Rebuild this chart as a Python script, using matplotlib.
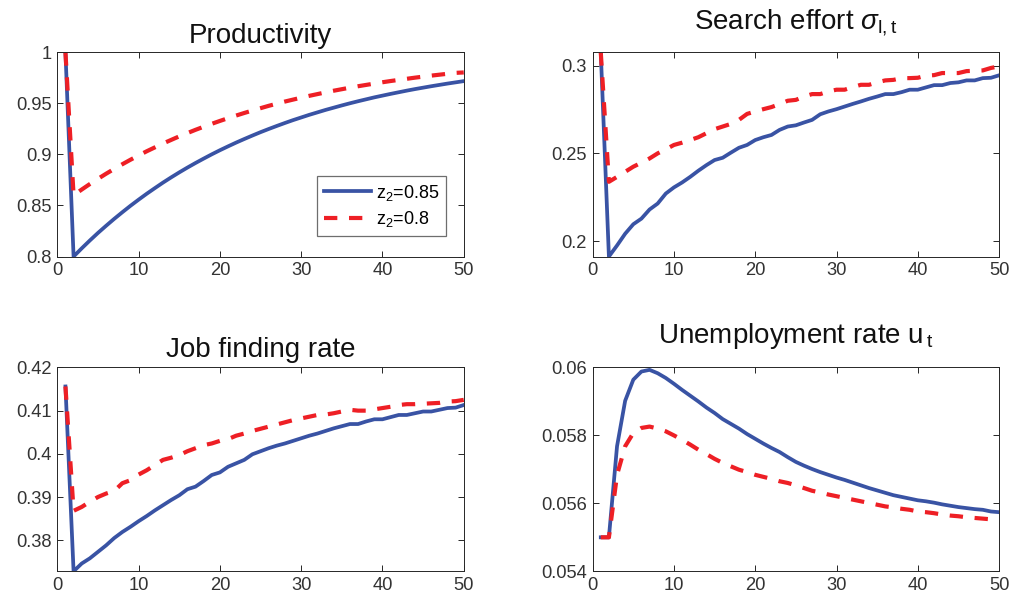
import matplotlib
matplotlib.use('Agg')
import matplotlib.pyplot as plt

plt.rcParams['font.family'] = ['Liberation Sans', 'DejaVu Sans']
plt.rcParams['mathtext.fontset'] = 'custom'
plt.rcParams['mathtext.rm'] = 'Liberation Sans'
plt.rcParams['mathtext.it'] = 'Liberation Sans:italic'

periods = list(range(1, 51))
labels = ['z$_2$=0.85', 'z$_2$=0.8']

# productivity
prod_085 = [1.0, 0.800, 0.808, 0.8157, 0.8231, 0.8301, 0.8369, 0.8434, 0.8497, 0.8557,
            0.8615, 0.8670, 0.8724, 0.8775, 0.8824, 0.8871, 0.8916, 0.8959, 0.9001, 0.9041,
            0.9079, 0.9116, 0.9151, 0.9185, 0.9218, 0.9249, 0.9279, 0.9308, 0.9336, 0.9362,
            0.9388, 0.9412, 0.9436, 0.9458, 0.9480, 0.9501, 0.9521, 0.9540, 0.9559, 0.9576,
            0.9593, 0.9609, 0.9625, 0.9640, 0.9654, 0.9668, 0.9681, 0.9694, 0.9706, 0.9718]
prod_080 = [1.0, 0.860, 0.8656, 0.8710, 0.8761, 0.8811, 0.8858, 0.8904, 0.8948, 0.8990,
            0.9031, 0.9069, 0.9107, 0.9142, 0.9177, 0.9209, 0.9241, 0.9271, 0.9300, 0.9328,
            0.9355, 0.9381, 0.9406, 0.9430, 0.9453, 0.9476, 0.9497, 0.9518, 0.9537, 0.9556,
            0.9574, 0.9591, 0.9608, 0.9624, 0.9639, 0.9654, 0.9668, 0.9681, 0.9694, 0.9707,
            0.9719, 0.9730, 0.9741, 0.9752, 0.9762, 0.9772, 0.9781, 0.9790, 0.9799, 0.9803]

# search effort
search_085 = [0.3076, 0.1912, 0.1975, 0.2042, 0.2096, 0.2128, 0.2180, 0.2214, 0.2271, 0.2306,
              0.2334, 0.2366, 0.2401, 0.2433, 0.2462, 0.2475, 0.2504, 0.2532, 0.2548, 0.2576,
              0.2592, 0.2605, 0.2634, 0.2653, 0.2660, 0.2676, 0.2691, 0.2723, 0.2739, 0.2752,
              0.2767, 0.2782, 0.2796, 0.2811, 0.2824, 0.2838, 0.2838, 0.2849, 0.2863, 0.2863,
              0.2876, 0.2889, 0.2889, 0.2901, 0.2905, 0.2916, 0.2916, 0.2929, 0.2931, 0.2945]
search_080 = [0.3076, 0.2338, 0.2366, 0.2395, 0.2424, 0.2447, 0.2471, 0.2500, 0.2523, 0.2548,
              0.2561, 0.2576, 0.2592, 0.2615, 0.2638, 0.2653, 0.2668, 0.2691, 0.2725, 0.2739,
              0.2752, 0.2764, 0.2781, 0.2800, 0.2805, 0.2824, 0.2838, 0.2838, 0.2853, 0.2863,
              0.2863, 0.2878, 0.2891, 0.2891, 0.2905, 0.2916, 0.2919, 0.2929, 0.2929, 0.2931,
              0.2943, 0.2946, 0.2958, 0.2958, 0.2958, 0.2969, 0.2971, 0.2973, 0.2987, 0.2996]

# job finding rate
jfr_085 = [0.4156, 0.3728, 0.3746, 0.3758, 0.3773, 0.3788, 0.3805, 0.3819, 0.3831, 0.3844,
           0.3856, 0.3869, 0.3881, 0.3893, 0.3904, 0.3918, 0.3924, 0.3937, 0.3951, 0.3957,
           0.3970, 0.3978, 0.3986, 0.3999, 0.4006, 0.4013, 0.4019, 0.4024, 0.4030, 0.4036,
           0.4042, 0.4047, 0.4053, 0.4059, 0.4064, 0.4069, 0.4069, 0.4075, 0.4080, 0.4080,
           0.4085, 0.4090, 0.4090, 0.4094, 0.4098, 0.4098, 0.4102, 0.4106, 0.4107, 0.4113]
jfr_080 = [0.4156, 0.3868, 0.3877, 0.3889, 0.3900, 0.3908, 0.3914, 0.3932, 0.3939, 0.3952,
           0.3962, 0.3974, 0.3986, 0.3991, 0.3997, 0.4006, 0.4013, 0.4020, 0.4024, 0.4030,
           0.4034, 0.4042, 0.4047, 0.4053, 0.4058, 0.4063, 0.4068, 0.4073, 0.4078, 0.4082,
           0.4086, 0.4090, 0.4091, 0.4094, 0.4098, 0.4102, 0.4100, 0.4100, 0.4103, 0.4106,
           0.4109, 0.4113, 0.4115, 0.4115, 0.4116, 0.4117, 0.4118, 0.4121, 0.4122, 0.4125]

# unemployment rate
unemp_085 = [0.0550, 0.0550, 0.05768, 0.05902, 0.05964, 0.05988, 0.05993, 0.05983, 0.05969, 0.05952,
             0.05934, 0.05917, 0.05900, 0.05882, 0.05866, 0.05848, 0.05834, 0.05820, 0.05804, 0.05790,
             0.05776, 0.05763, 0.05751, 0.05736, 0.05722, 0.05711, 0.05701, 0.05692, 0.05684, 0.05676,
             0.05669, 0.05661, 0.05653, 0.05645, 0.05638, 0.05631, 0.05624, 0.05619, 0.05614, 0.05609,
             0.05606, 0.05602, 0.05597, 0.05593, 0.05589, 0.05586, 0.05583, 0.05581, 0.05576, 0.05574]
unemp_080 = [0.0550, 0.0550, 0.05684, 0.05768, 0.05807, 0.05822, 0.05826, 0.05820, 0.05812, 0.05800,
             0.05787, 0.05773, 0.05758, 0.05745, 0.05731, 0.05719, 0.05709, 0.05699, 0.05692, 0.05684,
             0.05678, 0.05672, 0.05665, 0.05660, 0.05653, 0.05645, 0.05637, 0.05632, 0.05626, 0.05621,
             0.05616, 0.05611, 0.05606, 0.05601, 0.05596, 0.05591, 0.05588, 0.05584, 0.05581, 0.05576,
             0.05574, 0.05571, 0.05567, 0.05564, 0.05562, 0.05559, 0.05557, 0.05555, 0.05553, 0.05551]

titles = ['Productivity', r'Search effort $\sigma_{\mathrm{l,t}}$',
          'Job finding rate', r'Unemployment rate $\mathrm{u}_{\mathrm{\,t}}$']
title_pads = [6.5, 16.5, 7.2, 17.3]
ylims = [(0.8, 1.0), (0.1912, 0.3076), (0.3728, 0.42), (0.054, 0.06)]
yticks = [[0.8, 0.85, 0.9, 0.95, 1.0], [0.2, 0.25, 0.3],
          [0.38, 0.39, 0.40, 0.41, 0.42], [0.054, 0.056, 0.058, 0.06]]
yticklabels = [['0.8', '0.85', '0.9', '0.95', '1'], ['0.2', '0.25', '0.3'],
               ['0.38', '0.39', '0.4', '0.41', '0.42'], ['0.054', '0.056', '0.058', '0.06']]
xticks = [0, 10, 20, 30, 40, 50]

series = [(prod_085, prod_080), (search_085, search_080),
          (jfr_085, jfr_080), (unemp_085, unemp_080)]

blue = '#3953A4'
red = '#EE1F25'
grey = '#262626'

fig = plt.figure(figsize=(10.11, 6.03), dpi=100)
positions = [[0.0567, 0.5746, 0.402, 0.3386], [0.5862, 0.5746, 0.402, 0.3386],
             [0.0567, 0.0526, 0.402, 0.338], [0.5862, 0.0526, 0.402, 0.338]]

axes = []
for i in range(4):
    ax = fig.add_axes(positions[i])
    s1, s2 = series[i]
    ax.plot(periods, s1, color=blue, lw=2.7, label=labels[0])
    ax.plot(periods, s2, color=red, lw=3.0, dashes=(3.2, 2.8), label=labels[1])
    ax.set_xlim(0, 50)
    ax.set_ylim(*ylims[i])
    ax.set_xticks(xticks)
    ax.set_xticklabels([str(x) for x in xticks])
    ax.set_yticks(yticks[i])
    ax.set_yticklabels(yticklabels[i])
    ax.tick_params(direction='in', top=True, right=True, length=4, width=0.7,
                   colors=grey, labelsize=13.2, labelcolor='#333333', pad=4)
    for sp in ax.spines.values():
        sp.set_color(grey)
        sp.set_linewidth(0.7)
    ax.set_title(titles[i], fontsize=20, pad=title_pads[i], color='#111111')
    axes.append(ax)

leg = axes[0].legend(loc='lower right', bbox_to_anchor=(0.957, 0.102), fontsize=13,
                     handlelength=2.6, fancybox=False, edgecolor='#6e6e6e', framealpha=1,
                     borderaxespad=0, borderpad=0.35, labelspacing=0.38, handletextpad=0.32)
leg.get_frame().set_linewidth(0.9)

plt.savefig('out.png', dpi=100)
